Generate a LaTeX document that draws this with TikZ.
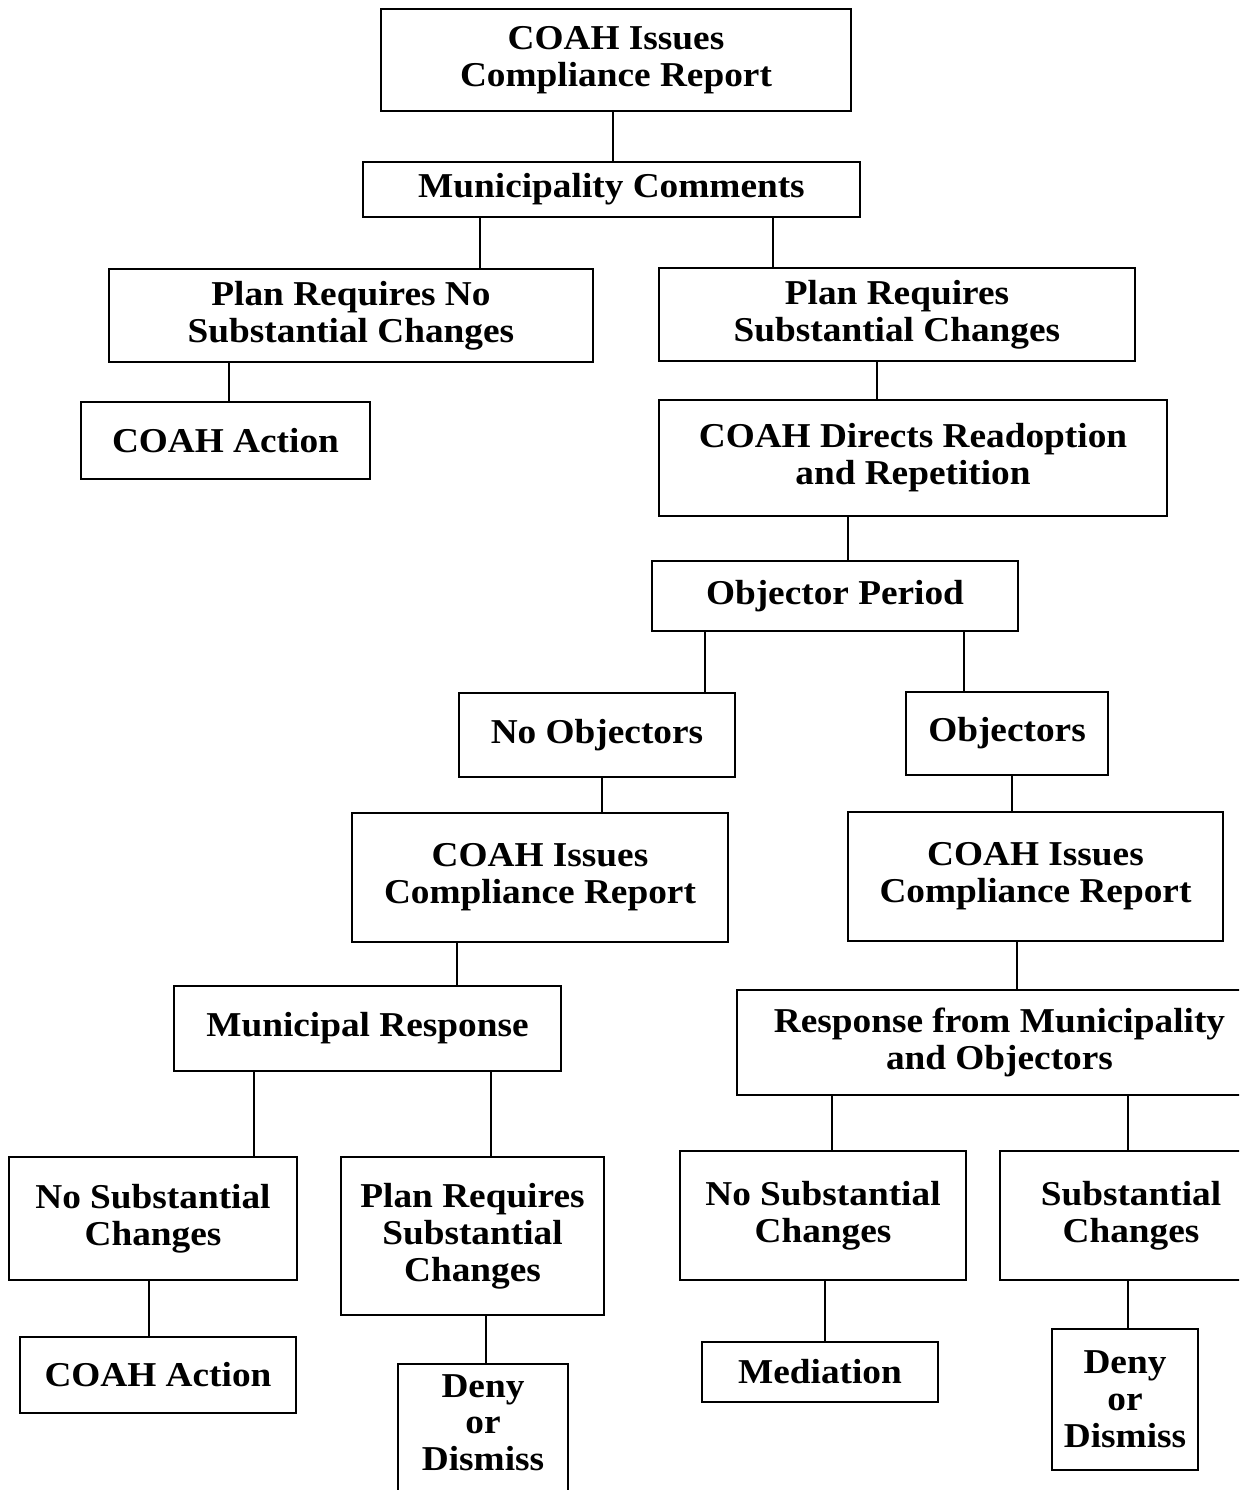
\documentclass[tikz,border=0pt]{standalone}
\usepackage{fontspec}
\setmainfont{Liberation Serif}[FakeStretch=1.07]
\begin{document}
\begin{tikzpicture}[x=1bp,y=-1bp,
  box/.style={draw, line width=2.2bp, inner sep=0pt, align=center,
    font=\fontsize{35}{37}\selectfont\bfseries},
  conn/.style={line width=2.6bp}]
\useasboundingbox (0,0) rectangle (1239,1490);
\clip (0,0) rectangle (1239,1490);
\newcommand\bx[6]{\node[box, minimum width={(#4-#2)*1bp}, minimum height={(#5-#3)*1bp}] (#1) at ({(#2+#4)/2},{(#3+#5)/2}) {#6};}
\bx{top}{381}{9}{851}{111}{COAH Issues\\Compliance Report}
\bx{mc}{363}{162}{860}{217}{Municipality Comments}
\bx{pnl}{109}{269}{593}{362}{Plan Requires No\\Substantial Changes}
\bx{psr}{659}{268}{1135}{361}{Plan Requires\\Substantial Changes}
\bx{actA}{81}{402}{370}{479}{COAH Action}
\bx{dir}{659}{400}{1167}{516}{COAH Directs Readoption\\and Repetition}
\bx{op}{652}{561}{1018}{631}{Objector Period}
\bx{noobj}{459}{693}{735}{777}{No Objectors}
\bx{obj}{906}{692}{1108}{775}{Objectors}
\bx{crl}{352}{813}{728}{942}{COAH Issues\\Compliance Report}
\bx{crr}{848}{812}{1223}{941}{COAH Issues\\Compliance Report}
\bx{mr}{174}{986}{561}{1071}{Municipal Response}
\bx{rmo}{737}{990}{1262}{1095}{Response from Municipality\\and Objectors}
\bx{nsl}{9}{1157}{297}{1280}{No Substantial\\Changes}
\bx{prs}{341}{1157}{604}{1315}{Plan Requires\\Substantial\\Changes}
\bx{nsr}{680}{1151}{966}{1280}{No Substantial\\Changes}
\bx{sc}{1000}{1151}{1262}{1280}{Substantial\\Changes}
\bx{actB}{20}{1337}{296}{1413}{COAH Action}
\node[box, minimum width=170bp, minimum height=150bp, anchor=north] (dnyl) at (483,1363) {};
\node[font=\fontsize{35}{37}\selectfont\bfseries, align=center, anchor=north, inner sep=0pt] (dnyltxt) at (483,1374) {Deny\\or\\Dismiss};
\bx{med}{702}{1342}{938}{1402}{Mediation}
\bx{dnyr}{1052}{1329}{1198}{1470}{Deny\\or\\Dismiss}
\draw[conn] (613,0 |- top.south) -- (613,0 |- mc.north);
\draw[conn] (480,0 |- mc.south) -- (480,0 |- pnl.north);
\draw[conn] (773,0 |- mc.south) -- (773,0 |- psr.north);
\draw[conn] (229,0 |- pnl.south) -- (229,0 |- actA.north);
\draw[conn] (877,0 |- psr.south) -- (877,0 |- dir.north);
\draw[conn] (848,0 |- dir.south) -- (848,0 |- op.north);
\draw[conn] (705,0 |- op.south) -- (705,0 |- noobj.north);
\draw[conn] (964,0 |- op.south) -- (964,0 |- obj.north);
\draw[conn] (602,0 |- noobj.south) -- (602,0 |- crl.north);
\draw[conn] (1012,0 |- obj.south) -- (1012,0 |- crr.north);
\draw[conn] (457,0 |- crl.south) -- (457,0 |- mr.north);
\draw[conn] (1017,0 |- crr.south) -- (1017,0 |- rmo.north);
\draw[conn] (254,0 |- mr.south) -- (254,0 |- nsl.north);
\draw[conn] (491,0 |- mr.south) -- (491,0 |- prs.north);
\draw[conn] (832,0 |- rmo.south) -- (832,0 |- nsr.north);
\draw[conn] (1128,0 |- rmo.south) -- (1128,0 |- sc.north);
\draw[conn] (149,0 |- nsl.south) -- (149,0 |- actB.north);
\draw[conn] (486,0 |- prs.south) -- (486,0 |- dnyl.north);
\draw[conn] (825,0 |- nsr.south) -- (825,0 |- med.north);
\draw[conn] (1128,0 |- sc.south) -- (1128,0 |- dnyr.north);
\end{tikzpicture}
\end{document}
